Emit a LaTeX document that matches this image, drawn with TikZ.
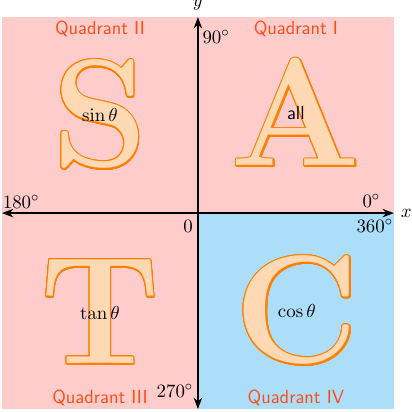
\documentclass[tikz,border=0pt]{standalone}
\usepackage{tikz}
\usepackage[copies]{contour}
\usetikzlibrary{arrows.meta}
\definecolor{quadpink}{RGB}{255,204,204}
\definecolor{quadblue}{RGB}{172,222,250}
\definecolor{quadlabel}{RGB}{255,75,20}
\definecolor{letteredge}{RGB}{255,128,0}
\definecolor{letterfill}{RGB}{255,217,179}
\contourlength{0.55pt}
\newcommand{\bigglyph}[1]{\rlap{\kern0.5pt\raisebox{-0.5pt}{\contour{letteredge}{\color{letteredge}#1}}}\contour{letteredge}{#1}}
\tikzset{
  axisline/.style={thick,{Stealth}-{Stealth}},
  quadname/.style={text=quadlabel,font=\sffamily,anchor=base},
  bigletter/.style={text=letterfill,font=\fontsize{89}{89}\selectfont\bfseries,inner sep=0pt},
  anglelabel/.style={anchor=base,inner sep=0pt}
}
\begin{document}
\fontsize{11}{13.6}\selectfont
\begin{tikzpicture}
  \useasboundingbox (-4.04,-4.06) rectangle (4.35,4.35);
  \fill[quadpink] (-4,-4) rectangle (4,4);
  \fill[quadblue] (0,-4) rectangle (4,0);
  % axes
  \coordinate (W) at (-4,0);
  \coordinate (E) at (4,0);
  \coordinate (N) at (0,4);
  \coordinate (B) at (0,-4);
  \draw[axisline] (W) -- (E) node[right] (xlab) {$x$};
  \draw[axisline] (B) -- (N) node[above] (ylab) {$y$};
  % quadrant names
  \foreach \qx/\qy/\qname in {2/3.65/I,-2/3.65/II,-2/-3.88/III,2/-3.88/IV}
    {\node[quadname] (q\qname) at (\qx,\qy) {Quadrant \qname};}
  % letters
  \foreach \lx/\ly/\glyph in {-2/2/S,2/2.04/A,-2/-2.03/T,2.02/-2/C}
    {\node[bigletter] (\glyph) at (\lx,\ly) {\bigglyph{\glyph}};}
  \node (sinlab) at (S) {$\sin\theta$};
  \node[font=\sffamily] (alllab) at (A) {all};
  \node (tanlab) at (T) {$\tan\theta$};
  \node (coslab) at (C) {$\cos\theta$};
  % angles
  \node[anglelabel] (a0) at (3.54,0.12) {$0^\circ$};
  \node[anglelabel] (a90) at (0.37,3.47) {$90^\circ$};
  \node[anglelabel] (a180) at (-3.61,0.10) {$180^\circ$};
  \node[anglelabel] (a270) at (-0.47,-3.76) {$270^\circ$};
  \node[anglelabel] (a360) at (3.61,-0.39) {$360^\circ$};
  \node[anglelabel] (o) at (-0.2,-0.39) {$0$};
\end{tikzpicture}
\end{document}
